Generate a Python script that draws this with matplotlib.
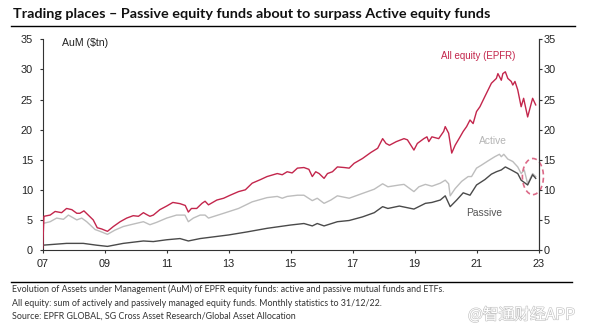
import matplotlib
matplotlib.use("Agg")
import matplotlib.pyplot as plt
from matplotlib.lines import Line2D
from matplotlib.patches import Ellipse
import matplotlib.patheffects as pe

W, H, DPI = 592, 327, 100

# Assets under management, $tn, by decimal year
all_years = [2007.00, 2007.04, 2007.24, 2007.40, 2007.61, 2007.77, 2007.94, 2008.10, 2008.20,
             2008.33, 2008.47, 2008.63, 2008.76, 2008.90, 2009.09, 2009.28, 2009.50, 2009.71,
             2009.92, 2010.09, 2010.25, 2010.35, 2010.46, 2010.57, 2010.78, 2011.00, 2011.20,
             2011.43, 2011.60, 2011.70, 2011.80, 2011.97, 2012.14, 2012.24, 2012.35, 2012.62,
             2012.84, 2013.05, 2013.32, 2013.54, 2013.76, 2014.03, 2014.24, 2014.57, 2014.73,
             2014.89, 2015.05, 2015.22, 2015.43, 2015.59, 2015.70, 2015.81, 2015.92, 2016.08,
             2016.19, 2016.35, 2016.51, 2016.73, 2016.89, 2017.05, 2017.32, 2017.59, 2017.81,
             2017.97, 2018.08, 2018.19, 2018.41, 2018.66, 2018.77, 2018.98, 2019.09, 2019.30,
             2019.40, 2019.46, 2019.56, 2019.78, 2019.94, 2019.99, 2020.10, 2020.20, 2020.31,
             2020.47, 2020.57, 2020.68, 2020.79, 2020.89, 2021.00, 2021.11, 2021.27, 2021.48,
             2021.64, 2021.69, 2021.80, 2021.85, 2021.93, 2022.01, 2022.12, 2022.17, 2022.24,
             2022.33, 2022.44, 2022.52, 2022.65, 2022.81, 2022.91]
all_aum = [0.3, 5.6, 5.8, 6.4, 6.2, 6.9, 6.7, 6.1, 6.1,
           6.5, 5.8, 5.0, 3.7, 3.5, 3.1, 3.9, 4.7, 5.3,
           5.7, 5.6, 6.2, 5.9, 5.6, 5.8, 6.7, 7.3, 7.9,
           7.7, 7.4, 6.3, 6.9, 6.9, 7.75, 8.1, 7.5, 8.3,
           8.6, 9.1, 9.7, 10.0, 11.1, 11.7, 12.2, 12.7, 12.5,
           13.0, 12.8, 13.6, 13.7, 13.4, 12.2, 13.0, 12.7, 11.9,
           12.7, 13.0, 13.8, 13.7, 13.6, 14.4, 15.2, 16.2, 16.9,
           18.5, 17.7, 17.4, 18.0, 18.5, 18.3, 16.6, 17.7, 18.5,
           18.8, 18.0, 18.8, 18.5, 19.7, 20.5, 19.4, 16.1, 17.4,
           18.8, 19.7, 20.5, 21.6, 21.0, 23.0, 23.8, 25.5, 27.7,
           28.5, 29.3, 28.2, 29.3, 29.6, 28.5, 28.0, 27.4, 28.0,
           26.6, 23.8, 25.2, 22.1, 25.2, 24.1]

active_years = [2007.00, 2007.24, 2007.45, 2007.67, 2007.83, 2008.10, 2008.26, 2008.42, 2008.69,
                2008.85, 2009.09, 2009.33, 2009.60, 2009.92, 2010.25, 2010.46, 2010.68, 2011.00,
                2011.32, 2011.59, 2011.70, 2011.86, 2012.08, 2012.24, 2012.35, 2012.84, 2013.32,
                2013.76, 2014.24, 2014.57, 2014.73, 2014.89, 2015.22, 2015.43, 2015.70, 2015.86,
                2016.08, 2016.30, 2016.51, 2016.89, 2017.32, 2017.70, 2017.97, 2018.14, 2018.51,
                2018.66, 2018.98, 2019.14, 2019.35, 2019.56, 2019.83, 2019.99, 2020.10, 2020.15,
                2020.31, 2020.52, 2020.73, 2020.84, 2021.00, 2021.16, 2021.37, 2021.59, 2021.74,
                2021.80, 2021.88, 2022.01, 2022.17, 2022.33, 2022.44, 2022.54, 2022.65, 2022.81,
                2022.91]
active_aum = [4.4, 4.7, 5.3, 5.1, 5.8, 5.0, 5.3, 4.7, 3.4,
              3.1, 2.6, 3.3, 3.9, 4.3, 4.7, 4.2, 4.6, 5.3,
              5.8, 5.8, 4.7, 5.3, 5.8, 5.8, 5.3, 6.1, 6.9,
              8.0, 8.7, 8.9, 8.6, 8.9, 9.1, 9.1, 8.2, 8.6,
              7.75, 8.3, 9.0, 8.6, 9.4, 10.1, 11.0, 10.5, 10.8,
              10.9, 9.7, 10.5, 10.9, 10.6, 11.1, 11.6, 11.0, 9.0,
              10.2, 11.4, 12.2, 12.2, 13.6, 14.1, 14.8, 15.5, 15.9,
              15.5, 15.9, 15.1, 14.7, 13.8, 12.7, 13.3, 11.0, 12.7,
              12.2]

passive_years = [2007.00, 2007.77, 2008.31, 2008.74, 2009.09, 2009.60, 2010.25, 2010.57, 2011.00,
                 2011.43, 2011.70, 2012.08, 2013.00, 2013.59, 2014.24, 2015.00, 2015.43, 2015.70,
                 2015.86, 2016.08, 2016.51, 2016.89, 2017.32, 2017.70, 2017.97, 2018.14, 2018.51,
                 2018.98, 2019.35, 2019.56, 2019.83, 2019.99, 2020.15, 2020.36, 2020.57, 2020.79,
                 2021.00, 2021.27, 2021.48, 2021.64, 2021.80, 2021.93, 2022.12, 2022.33, 2022.44,
                 2022.65, 2022.81, 2022.91]
passive_aum = [0.8, 1.1, 1.1, 0.8, 0.6, 1.1, 1.5, 1.4, 1.7,
               1.9, 1.5, 1.9, 2.5, 3.0, 3.6, 4.15, 4.4, 4.0,
               4.4, 4.0, 4.7, 4.9, 5.5, 6.2, 7.2, 6.9, 7.3,
               6.8, 7.75, 7.9, 8.3, 9.0, 7.2, 8.3, 9.5, 9.1,
               10.8, 11.7, 12.6, 13.0, 13.3, 13.8, 13.3, 12.7, 11.6,
               10.8, 12.5, 11.9]

x_ticks = [2007, 2009, 2011, 2013, 2015, 2017, 2019, 2021, 2023]
x_tick_labels = ["07", "09", "11", "13", "15", "17", "19", "21", "23"]
y_ticks = [0, 5, 10, 15, 20, 25, 30, 35]

title = "Trading places \u2013 Passive equity funds about to surpass Active equity funds"
notes = [
    "Evolution of Assets under Management (AuM) of EPFR equity funds: active and passive mutual funds and ETFs.",
    "All equity: sum of actively and passively managed equity funds. Monthly statistics to 31/12/22.",
    "Source: EPFR GLOBAL, SG Cross Asset Research/Global Asset Allocation",
]

RED = "#c3264c"
LIGHT = "#bdbdbd"
DARK = "#4a4a4a"
TXT = "#222222"

plt.rcParams["font.family"] = ["Liberation Sans", "DejaVu Sans"]

fig = plt.figure(figsize=(W / DPI, H / DPI), dpi=DPI)


def fy(py):
    return 1 - py / H


ax_l, ax_r, ax_t, ax_b = 42.7, 538.5, 39.3, 250.0
ax = fig.add_axes([ax_l / W, fy(ax_b), (ax_r - ax_l) / W, (ax_b - ax_t) / H])

ax.plot(active_years, active_aum, color=LIGHT, lw=1.0, zorder=2)
ax.plot(passive_years, passive_aum, color=DARK, lw=1.0, zorder=3)
ax.plot(all_years, all_aum, color=RED, lw=1.0, zorder=4)

ax.set_xlim(2007, 2023)
ax.set_ylim(0, 35)
ax.set_xticks(x_ticks)
ax.set_xticklabels(x_tick_labels)
ax.set_yticks(y_ticks)
ax.spines["top"].set_visible(False)
for s in ["left", "bottom", "right"]:
    ax.spines[s].set_color("#333333")
    ax.spines[s].set_linewidth(0.8)
ax.tick_params(axis="both", direction="out", length=2.5, width=0.8, color="#333333",
               labelsize=7.8, labelcolor=TXT)
ax.tick_params(axis="x", pad=4)
ax.tick_params(axis="y", pad=4.5)

# duplicate value scale on the right-hand side
axr = ax.twinx()
axr.set_ylim(0, 35)
axr.set_yticks(y_ticks)
for s in ["top", "left", "bottom"]:
    axr.spines[s].set_visible(False)
axr.spines["right"].set_color("#333333")
axr.spines["right"].set_linewidth(0.8)
axr.tick_params(axis="y", direction="out", length=2.5, width=0.8, color="#333333",
                labelsize=7.8, labelcolor=TXT, pad=1.2)

ax.annotate("AuM ($tn)", xy=(62, fy(43) * H), xycoords="figure pixels",
            ha="left", va="center", fontsize=7.6, color=TXT)
ax.annotate("All equity (EPFR)", xy=(478, fy(56) * H), xycoords="figure pixels",
            ha="center", va="center", fontsize=7.0, color=RED)
ax.annotate("Active", xy=(492.7, fy(140.7) * H), xycoords="figure pixels",
            ha="center", va="center", fontsize=7.4, color="#b5b5b5")
ax.annotate("Passive", xy=(484, fy(213) * H), xycoords="figure pixels",
            ha="center", va="center", fontsize=7.4, color="#555555")

# dashed ring around the crossover point
ax.add_patch(Ellipse((2022.82, 12.2), width=0.68, height=6.0, fill=False,
                     edgecolor="#dc6a88", lw=1.2, ls=(0, (3, 2)), clip_on=False, zorder=5))

t_title = fig.text(13 / W, fy(18.5), title, family=["Lato", "DejaVu Sans"],
                   fontweight="bold", fontsize=10, va="baseline", ha="left", color="#111111")
fig.add_artist(Line2D([11 / W, 575 / W], [fy(25.5), fy(25.5)], color="black", lw=1.0))
fig.add_artist(Line2D([11 / W, 572 / W], [fy(281.7), fy(281.7)], color="black", lw=1.0))

note_y = [289.3, 303.3, 316.5]
note_texts = [fig.text(12 / W, fy(yy), s, family=["Lato", "DejaVu Sans"], fontsize=6,
                       va="center", ha="left", color="#333333")
              for s, yy in zip(notes, note_y)]

wm = fig.text(468 / W, fy(315), "@智通财经APP", family=["Noto Sans CJK SC", "DejaVu Sans"],
              fontsize=10, va="center", ha="left", color="white",
              path_effects=[pe.withStroke(linewidth=0.9, foreground="#c4c4c4")])

fig.canvas.draw()
r = fig.canvas.get_renderer()


def fit(txt, target_px):
    w = txt.get_window_extent(r).width
    txt.set_fontsize(txt.get_fontsize() * target_px / w)
    return txt.get_fontsize()


fit(t_title, 479)
fs = fit(note_texts[0], 436)
for t in note_texts[1:]:
    t.set_fontsize(fs)
fit(wm, 107)

fig.savefig("out.png", dpi=DPI)
